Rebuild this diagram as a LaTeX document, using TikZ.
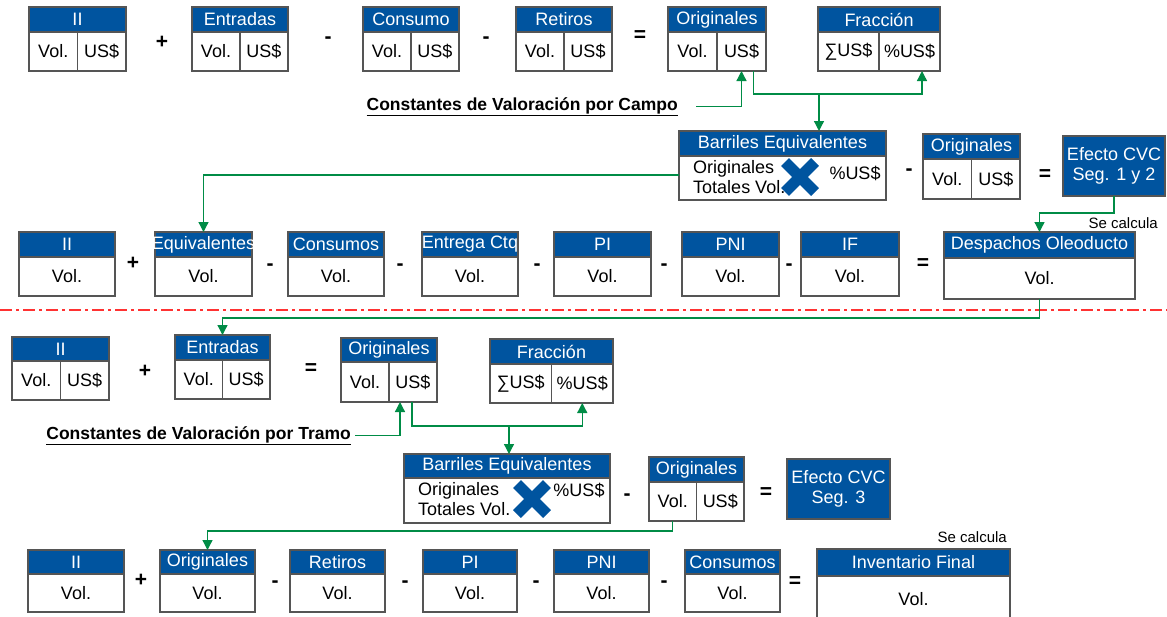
\documentclass[tikz,border=0pt]{standalone}
\usepackage{fontspec}
\setmainfont{Liberation Sans}
\usetikzlibrary{arrows.meta,calc}
\definecolor{hblue}{RGB}{0,84,159}
\definecolor{gcol}{RGB}{0,140,70}
\definecolor{bcol}{RGB}{85,85,85}
\definecolor{rcol}{RGB}{255,50,50}
\newcommand\TwoBox[9]{%
  \node[hdr, minimum width=#4pt, minimum height=#5pt] (#1) at (#2,#3) {\makebox[0pt]{#7}};
  \node[cell, minimum width=#4pt/2, minimum height=#6pt] (#1-l) at (#1.south west) {#8};
  \node[cell, minimum width=#4pt/2, minimum height=#6pt] (#1-r) at (#1-l.north east) {#9};
}
\newcommand\OneBox[7]{%
  \node[hdr, minimum width=#4pt, minimum height=#5pt] (#1) at (#2,#3) {\makebox[0pt]{#7}};
  \node[cell, minimum width=#4pt, minimum height=#6pt] (#1-b) at (#1.south west) {Vol.};
}
\newcommand\BarBox[6]{%
  \node[hdr, minimum width=#4pt, minimum height=#5pt] (#1) at (#2,#3) {\makebox[0pt]{Barriles Equivalentes}};
  \node[cell, minimum width=#4pt, minimum height=#6pt] (#1-b) at (#1.south west) {};
}
\newcommand\OpSym[4]{\node[op] (#1) at (#2,#3) {#4};}
\begin{document}
\begin{tikzpicture}[x=1pt,y=-1pt,
  every node/.style={font=\fontsize{18}{20}\selectfont},
  hdr/.style={draw=bcol, fill=hblue, text=white, inner sep=0pt, outer sep=0pt, anchor=north west, line width=1.2pt},
  cell/.style={draw=bcol, fill=white, inner sep=0pt, outer sep=0pt, anchor=north west, line width=1.2pt},
  cvc/.style={draw=bcol, fill=hblue, text=white, inner sep=0pt, outer sep=0pt, anchor=north west, line width=1.2pt, align=center},
  op/.style={font=\fontsize{21}{21}\selectfont\bfseries, inner sep=0pt, anchor=base},
  lbl/.style={font=\fontsize{17.5}{20}\selectfont\bfseries, inner sep=0pt, anchor=base east},
  small/.style={font=\fontsize{15}{18}\selectfont, inner sep=0pt, anchor=east},
  inner/.style={inner sep=0pt, align=left},
  gline/.style={draw=gcol, line width=1.3pt},
  garrow/.style={draw=gcol, line width=1.3pt, -{Triangle[width=10pt,length=10pt]}},
  xmark/.style={draw=hblue, line width=11pt},
]
\path[fill=white] (0,0) rectangle (1167,616);
\useasboundingbox (0,0) rectangle (1167,616);

% ---------- Row 1 ----------
\TwoBox{a1}{29}{7}{97}{25}{39}{II}{Vol.}{US\$}
\OpSym{o1}{162}{48.5}{+}
\TwoBox{a2}{192}{7}{96}{25}{39}{Entradas}{Vol.}{US\$}
\OpSym{o2}{328}{43.5}{-}
\TwoBox{a3}{363}{7}{96}{25}{39}{Consumo}{Vol.}{US\$}
\OpSym{o3}{486}{43.5}{-}
\TwoBox{a4}{516}{7}{96}{25}{39}{Retiros}{Vol.}{US\$}
\OpSym{o4}{640}{41.5}{=}
\TwoBox{a5}{668}{7}{98}{25}{39}{Originales}{Vol.}{US\$}
\TwoBox{a6}{818}{7}{122}{25}{39}{Fracción}{∑US\$}{\%US\$}
\node[lbl] (lc1) at (678,110) {\underline{Constantes de Valoración por Campo}};

% ---------- Row 2 ----------
\BarBox{b1}{679}{131}{207}{25}{44}
\node[inner, anchor=west] (b1t) at (693,177) {Originales\\Totales Vol.};
\node[inner] (b1p) at (855,173) {\%US\$};
\draw[xmark] (785,162) -- (815,192);
\draw[xmark] (815,162) -- (785,192);
\OpSym{o5}{909}{175.5}{-}
\TwoBox{b2}{923}{134}{97}{25}{40}{Originales}{Vol.}{US\$}
\OpSym{o6}{1045}{180.5}{=}
\node[cvc, minimum width=102pt, minimum height=60pt] (cvc1) at (1063,136) {Efecto CVC\\Seg. 1 y 2};
\node[small] (sc1) at (1158,223) {Se calcula};

% ---------- Row 3 ----------
\OneBox{c1}{19}{232}{96}{25}{39}{II}
\OpSym{o7}{133}{269.5}{+}
\OneBox{c2}{155}{232}{97}{25}{39}{Equivalentes}
\OpSym{o8}{270}{270.5}{-}
\OneBox{c3}{288}{232}{96}{25}{39}{Consumos}
\OpSym{o9}{400}{270.5}{-}
\OneBox{c4}{422}{232}{96}{25}{39}{Entrega Ctq}
\OpSym{o10}{537}{270.5}{-}
\OneBox{c5}{554}{232}{97}{25}{39}{PI}
\OpSym{o11}{664}{270.5}{-}
\OneBox{c6}{682}{232}{97}{25}{39}{PNI}
\OpSym{o12}{789}{270.5}{-}
\OneBox{c7}{801}{232}{98}{25}{39}{IF}
\OpSym{o13}{923}{269.5}{=}
\OneBox{c8}{944}{232}{191}{26}{41}{Despachos Oleoducto}

% separator
\draw[rcol, line width=1.5pt, dash pattern=on 12pt off 4pt on 3pt off 4pt] (0,310) -- (1167,310);

% ---------- Row 4 ----------
\TwoBox{d1}{12}{337}{97}{24}{39}{II}{Vol.}{US\$}
\OpSym{o14}{145}{377.5}{+}
\TwoBox{d2}{175}{335}{95}{25}{39}{Entradas}{Vol.}{US\$}
\OpSym{o15}{311}{374.5}{=}
\TwoBox{d3}{341}{338}{96}{24}{40}{Originales}{Vol.}{US\$}
\TwoBox{d4}{490}{339}{123}{25}{39}{Fracción}{∑US\$}{\%US\$}
\node[lbl] (lt1) at (351,439) {\underline{Constantes de Valoración por Tramo}};

% ---------- Row 5 ----------
\BarBox{e1}{404}{454}{206}{24}{45}
\node[inner, anchor=west] (e1t) at (418,499) {Originales\\Totales Vol.};
\node[inner] (e1p) at (579,490) {\%US\$};
\draw[xmark] (517,484) -- (547,514);
\draw[xmark] (547,484) -- (517,514);
\OpSym{o16}{627}{500.5}{-}
\TwoBox{e2}{649}{457}{95}{25}{39}{Originales}{Vol.}{US\$}
\OpSym{o17}{766}{498.5}{=}
\node[cvc, minimum width=103pt, minimum height=60pt] (cvc2) at (787,459) {Efecto CVC\\Seg. 3};

% ---------- Row 6 ----------
\OneBox{f1}{28}{550}{96}{24}{38}{II}
\OpSym{o18}{141}{586.5}{+}
\OneBox{f2}{160}{550}{95}{24}{38}{Originales}
\OpSym{o19}{275}{587.5}{-}
\OneBox{f3}{290}{550}{95}{24}{38}{Retiros}
\OpSym{o20}{405}{587.5}{-}
\OneBox{f4}{423}{550}{94}{24}{38}{PI}
\OpSym{o21}{536}{587.5}{-}
\OneBox{f5}{554}{550}{95}{24}{38}{PNI}
\OpSym{o22}{664}{587.5}{-}
\OneBox{f6}{685}{550}{95}{24}{38}{Consumos}
\OpSym{o23}{795}{587.5}{=}
\OneBox{f7}{817}{549}{193}{27}{46}{Inventario Final}
\node[small] (sc2) at (1007,537) {Se calcula};

% ---------- connectors ----------
\coordinate (j1) at (819,94);
\draw[garrow, shorten <=18pt] (lc1.east) -| (a5-r.south);
\draw[gline] ([xshift=12pt]a5-r.south) |- (j1);
\draw[garrow] (j1) -| ([xshift=12.5pt]a6-r.south);
\draw[garrow] (j1) -- (j1 |- b1.north);
\draw[garrow] ([yshift=3pt]b1-b.west) -| (c2.north);
\draw[garrow] (cvc1.south) -- ++(0,17) -| (c8.north);
\draw[garrow] (c8-b.south) -- ++(0,19) -| (d2.north);
\coordinate (j2) at (509,426);
\draw[garrow, shorten <=4pt] (lt1.east) -| ([xshift=-13pt]d3-r.south);
\draw[gline] ([xshift=-1pt]d3-r.south) |- (j2);
\draw[garrow] (j2) -| (d4-r.south);
\draw[garrow] (j2) -- (j2 |- e1.north);
\draw[garrow] (e2-l.south) -- ++(0,10) -| (f2.north);
\end{tikzpicture}
\end{document}
